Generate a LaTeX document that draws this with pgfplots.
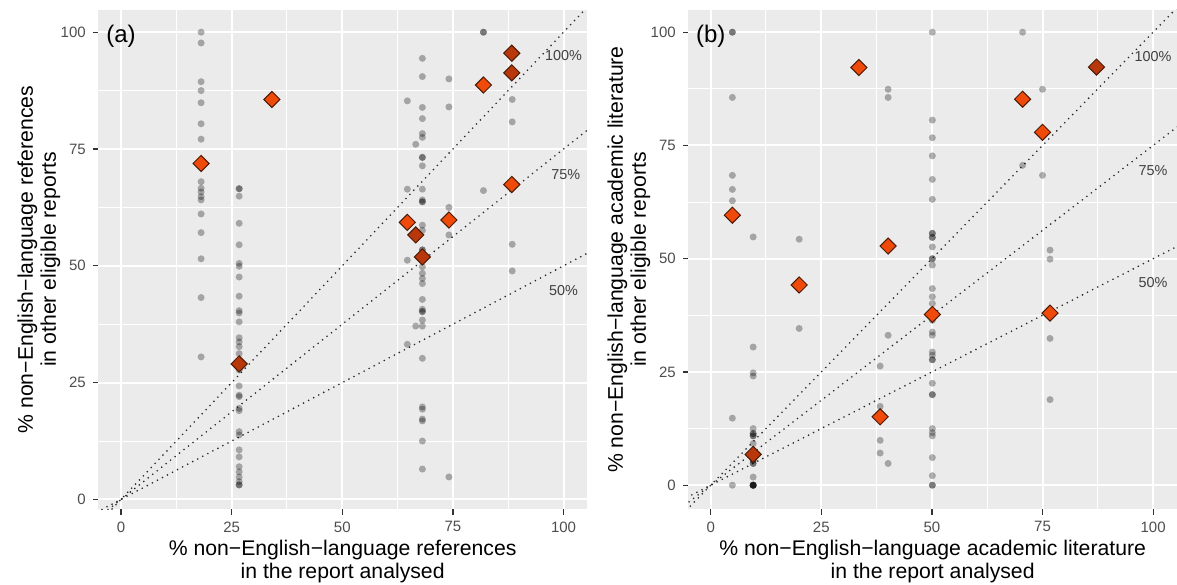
\documentclass[border=0pt]{standalone}
\usepackage{pgfplots}
\pgfplotsset{compat=1.18}
\usepackage{fontspec}
\setmainfont{Liberation Sans}
\definecolor{bg}{HTML}{EBEBEB}
\definecolor{tickc}{HTML}{333333}
\definecolor{labc}{HTML}{4D4D4D}
\definecolor{dia}{HTML}{F04A0A}
\definecolor{diadark}{HTML}{B8380C}
\definecolor{diaedge}{HTML}{4A1A05}
\tikzset{pct/.style={font=\fontsize{7.2}{8}\selectfont, text=black!75}}
\pgfplotsset{
  myax/.style={
    scale only axis, width=244.35pt, height=249.5pt,
    axis background/.style={fill=bg},
    axis line style={draw=none},
    tick pos=left, tick align=outside,
    major tick length=2.75pt, minor tick length=0pt,
    xtick={0,25,50,75,100}, ytick={0,25,50,75,100},
    minor tick num=1, grid=both,
    major grid style={white, line width=1pt},
    minor grid style={white, line width=0.5pt},
    every tick/.style={draw=tickc, line width=0.6pt},
    tick label style={font=\fontsize{7.5}{9}\selectfont, text=labc},
    /pgf/number format/assume math mode=true,
    every axis x label/.style={align=center, font=\fontsize{10.6}{11.5}\selectfont, inner sep=0pt,
      at={(axis description cs:0.5,0)}, anchor=north, yshift=-15.5pt},
    every axis y label/.style={align=center, font=\fontsize{10.6}{11.5}\selectfont, inner sep=0pt,
      at={(axis description cs:0,0.5)}, xshift=-40.65pt, rotate=90, anchor=north},
  },
  gr/.style={only marks, mark=*, mark size=1.75pt, mark options={fill=black, fill opacity=0.3, draw opacity=0}},
  dm/.style={only marks, mark=square*, mark size=2.85pt, mark options={rotate=45, fill=dia, draw=diaedge, line width=0.5pt}},
  dmd/.style={only marks, mark=square*, mark size=2.85pt, mark options={rotate=45, fill=diadark, draw=diaedge, line width=0.5pt}},
  dl/.style={black!85, line width=0.9pt, dash pattern=on 0pt off 2.85pt, line cap=round},
}
\begin{document}
\begin{tikzpicture}
\useasboundingbox (0,0) rectangle (588.5pt,292pt);
% ---------------- panel (a)
\begin{axis}[myax, at={(49.15pt,37.5pt)}, anchor=south west,
  xmin=-5.13, xmax=105.3, ymin=-2.05, ymax=104.75,
  xlabel={\% non−English−language references\\in the report analysed},
  ylabel={\% non−English−language references\\in other eligible reports}]
\addplot[dl] coordinates {(-10,-10) (120,120)};
\addplot[dl] coordinates {(-10,-7.5) (120,90)};
\addplot[dl] coordinates {(-10,-5) (120,60)};
\addplot[gr] coordinates {
(18.1,100) (18.1,97.7) (18.1,89.4) (18.1,87.5) (18.1,84.9) (18.1,80.4) (18.1,77.1) (18.1,68.0) (18.1,66.6) (18.1,65.8) (18.1,64.8) (18.1,64.1) (18.1,61.1) (18.1,57.1) (18.1,51.5) (18.1,43.2) (18.1,30.5)
(26.7,66.5) (26.7,66.5) (26.7,64.9) (26.7,59.1) (26.7,54.5) (26.7,50.5) (26.7,49.9) (26.7,47.6) (26.7,43.5) (26.7,40.4) (26.7,39.9) (26.7,38.0) (26.7,34.6) (26.7,33.7) (26.7,32.7) (26.7,31.2) (26.7,29.0) (26.7,27.7) (26.7,24.3) (26.7,22.3) (26.7,22.0) (26.7,19.5) (26.7,19.0) (26.7,14.5) (26.7,13.8) (26.7,10.6) (26.7,9.1) (26.7,7.0) (26.7,5.9) (26.7,4.8) (26.7,3.8) (26.7,3.1) (26.7,3.1)
(64.7,85.3) (64.7,66.4) (64.7,51.2) (64.7,33.2)
(66.6,76.0) (66.6,37.1)
(68.1,94.4) (68.1,90.5) (68.1,83.9) (68.1,81.5) (68.1,78.3) (68.1,77.5) (68.1,73.2) (68.1,73.2) (68.1,71.4) (68.1,66.4) (68.1,64.1) (68.1,63.7) (68.1,63.7) (68.1,58.7) (68.1,57.6) (68.1,53.4) (68.1,53.4) (68.1,51.9) (68.1,49.8) (68.1,48.4) (68.1,47.3) (68.1,46.2) (68.1,42.8) (68.1,40.7) (68.1,40.2) (68.1,40.2) (68.1,38.4) (68.1,37.1) (68.1,30.2) (68.1,19.8) (68.1,19.3) (68.1,17.2) (68.1,16.8) (68.1,12.5) (68.1,6.5)
(74.1,90.0) (74.1,84.0) (74.1,62.5) (74.1,56.6) (74.1,4.8)
(81.9,100) (81.9,100) (81.9,66.1)
(88.4,85.6) (88.4,80.8) (88.4,54.6) (88.4,48.9)
};
\addplot[dm] coordinates {(18.1,71.9) (34.1,85.6) (64.7,59.3) (74.1,59.8) (81.9,88.7) (88.3,67.4)};
\addplot[dmd] coordinates {(26.7,29.0) (66.6,56.6) (68.1,51.9) (88.3,95.5) (88.3,91.3)};
\node[pct] at (axis cs:100,95) {100\%};
\node[pct] at (axis cs:100.5,69.6) {75\%};
\node[pct] at (axis cs:100,44.8) {50\%};
\node[font=\fontsize{12}{14}\selectfont] at (axis cs:0,99.2) {(a)};
\end{axis}
% ---------------- panel (b)
\begin{axis}[myax, at={(344.15pt,37.5pt)}, anchor=south west,
  xmin=-5.06, xmax=105.4, ymin=-5.25, ymax=104.9,
  xlabel={\% non−English−language academic literature\\in the report analysed},
  ylabel={\% non−English−language academic literature\\in other eligible reports}]
\addplot[dl] coordinates {(-10,-10) (120,120)};
\addplot[dl] coordinates {(-10,-7.5) (120,90)};
\addplot[dl] coordinates {(-10,-5) (120,60)};
\addplot[gr] coordinates {
(4.9,100) (4.9,100) (4.9,85.6) (4.9,68.4) (4.9,65.3) (4.9,62.8) (4.9,14.8) (4.9,0)
(9.6,54.8) (9.6,30.5) (9.6,24.8) (9.6,24.1) (9.6,12.5) (9.6,11.4) (9.6,11.4) (9.6,10.9) (9.6,10.9) (9.6,9.2) (9.6,5.5) (9.6,5.5) (9.6,4.8) (9.6,4.8) (9.6,1.8) (9.6,0) (9.6,0) (9.6,0) (9.6,0) (9.6,0) (9.6,0)
(20.0,54.3) (20.0,34.6)
(38.3,26.3) (38.3,17.4) (38.3,9.9) (38.3,7.1)
(40.1,87.4) (40.1,85.6) (40.1,33.1) (40.1,4.8)
(50.1,100) (50.1,80.6) (50.1,76.7) (50.1,72.7) (50.1,67.5) (50.1,63.1) (50.1,55.6) (50.1,55.6) (50.1,54.7) (50.1,54.7) (50.1,52.6) (50.1,50.0) (50.1,50.0) (50.1,48.6) (50.1,43.4) (50.1,41.6) (50.1,40.1) (50.1,36.4) (50.1,33.8) (50.1,33.1) (50.1,29.4) (50.1,28.7) (50.1,27.7) (50.1,27.7) (50.1,22.5) (50.1,20.0) (50.1,20.0) (50.1,12.5) (50.1,11.6) (50.1,10.9) (50.1,6.1) (50.1,2.1) (50.1,0) (50.1,0)
(70.5,100) (70.5,70.6)
(75.0,87.4) (75.0,68.4)
(76.7,51.9) (76.7,49.9) (76.7,32.4) (76.7,18.9)
};
\addplot[dm] coordinates {(4.9,59.6) (20.0,44.2) (33.5,92.2) (38.3,15.1) (40.1,52.8) (50.1,37.7) (70.5,85.2) (75.0,77.9) (76.7,38.0)};
\addplot[dmd] coordinates {(9.6,6.8) (87.2,92.3)};
\node[pct] at (axis cs:100,94.6) {100\%};
\node[pct] at (axis cs:100,69.5) {75\%};
\node[pct] at (axis cs:100,44.7) {50\%};
\node[font=\fontsize{12}{14}\selectfont] at (axis cs:0,99.1) {(b)};
\end{axis}
\end{tikzpicture}
\end{document}
